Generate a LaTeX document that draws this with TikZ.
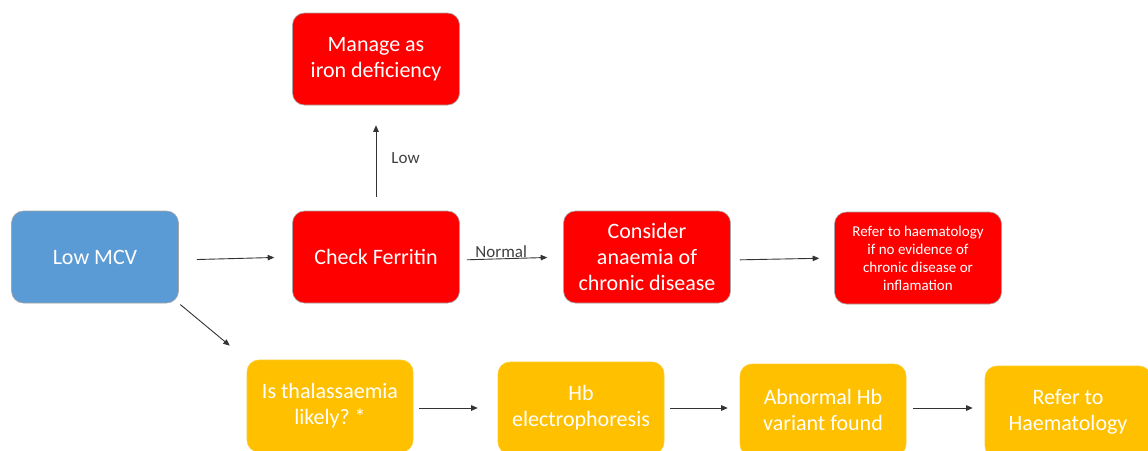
\documentclass[tikz,border=0pt]{standalone}
\usepackage{fontspec}
\setmainfont{Carlito}
\usepackage{xcolor}
\definecolor{mcvblue}{HTML}{5B9BD5}
\definecolor{ferred}{HTML}{FF0000}
\definecolor{thalamber}{HTML}{FFC000}
\definecolor{edgegrey}{HTML}{A6A6A6}
\usepackage{tikz}
\usetikzlibrary{
  arrows.meta,
  positioning
}

\begin{document}
\begin{tikzpicture}[
  x=1pt, y=-1pt,
  box/.style={rectangle, rounded corners=12pt, draw=edgegrey, line width=0.6pt, text=white, minimum width=167pt, minimum height=92pt, inner sep=2pt, align=center, font=\fontsize{22}{26}\selectfont},
  bluebox/.style={box, fill=mcvblue},
  redbox/.style={box, fill=ferred},
  amberbox/.style={box, fill=thalamber, draw=thalamber!85!white, minimum width=166pt},
  arr/.style={-{Triangle[length=6.5pt,width=5.5pt]}, line width=0.9pt, black!80},
  lbl/.style={font=\fontsize{17}{20}\selectfont, text=black!75, inner sep=1pt},
]
\useasboundingbox (0,0) rectangle (1148,450);

% Start
\node[bluebox] (lowmcv) at (95,257) {Low MCV};

% Ferritin branch (red)
\node[redbox] (iron) at (376,59) {Manage as\\iron deficiency};
\node[redbox] (ferritin) at (376,257) {Check Ferritin};
\node[redbox] (chronic) at (647,257) {Consider\\anaemia of\\chronic disease};
\node[redbox, font=\fontsize{15}{18}\selectfont] (referred) at (918,258) {Refer to haematology\\if no evidence of\\chronic disease or\\inflamation};

% Thalassaemia branch (amber)
\node[amberbox] (thal) at (330,406) {Is thalassaemia\\likely?~*};
\node[amberbox] (electro) at (581,408) {Hb\\electrophoresis};
\node[amberbox] (variant) at (823,410) {Abnormal Hb\\variant found};
\node[amberbox] (haem) at (1068,412) {Refer to\\Haematology};

% Arrows top row
\draw[arr, shorten <=18pt, shorten >=18pt] ([yshift=-3pt]lowmcv.east) -- (ferritin.west);
\draw[arr, shorten <=14pt, shorten >=20pt] (ferritin.north) -- (iron.south) node[lbl, midway, right=14pt] {Low};
\draw[arr, shorten <=7pt, shorten >=16pt] ([yshift=-3pt]ferritin.east) -- (chronic.west) node[lbl, pos=0.4, above] {Normal};
\draw[arr, shorten <=9pt, shorten >=15pt] ([yshift=-3pt]chronic.east) -- (referred.west);

% Arrows bottom row
\draw[arr, shorten <=2pt, shorten >=22pt] (lowmcv.south east) -- (thal.north west);
\draw[arr, shorten <=6pt, shorten >=20pt] (thal.east |- electro.west) -- (electro.west);
\draw[arr, shorten <=6pt, shorten >=12pt] (electro.east) -- (electro.east -| variant.west);
\draw[arr, shorten <=7pt, shorten >=12pt] (variant.east |- electro.east) -- (electro.east -| haem.west);

\end{tikzpicture}
\end{document}
